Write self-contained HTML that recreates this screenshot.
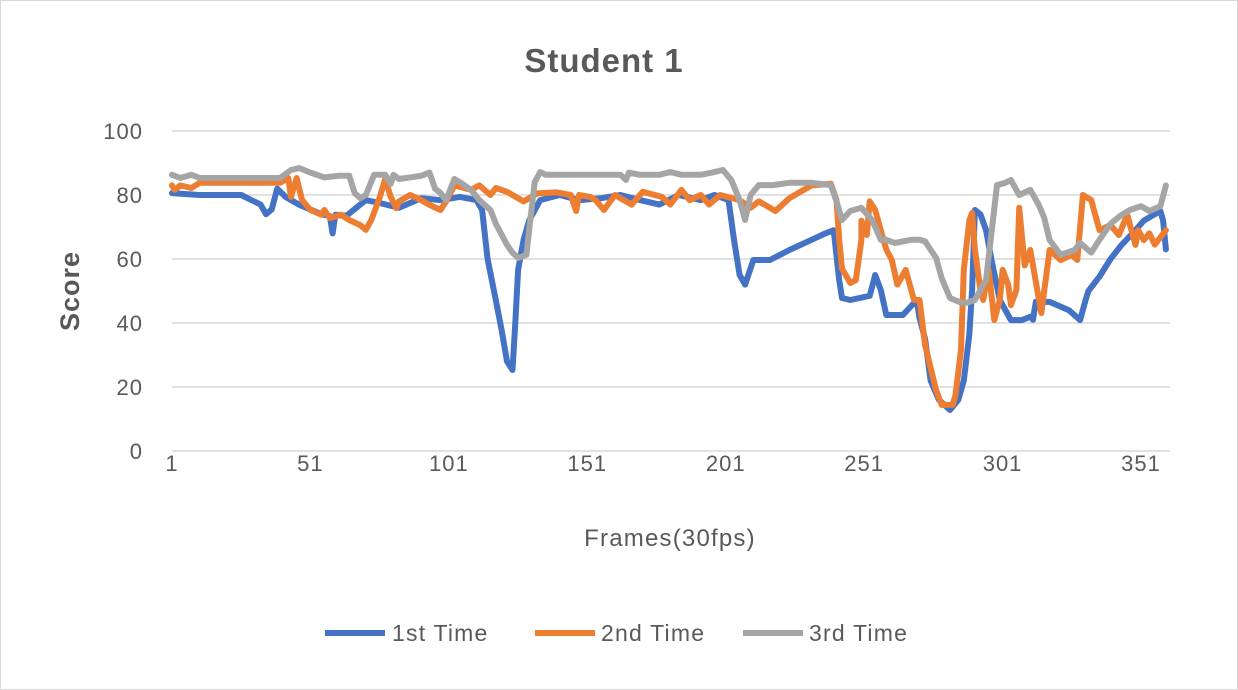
<!DOCTYPE html>
<html><head><meta charset="utf-8"><style>
body{margin:0;background:#fff;}
svg{display:block;font-family:"Liberation Sans",sans-serif;}
</style></head><body>
<svg id="chart" width="1238" height="690" viewBox="0 0 1238 690">
<rect x="0.5" y="0.5" width="1237" height="689" fill="#fff" stroke="#d9d9d9"/>
<text x="604" y="72" text-anchor="middle" font-size="33" font-weight="bold" letter-spacing="1" fill="#595959">Student 1</text>
<g id="grid"></g>
<g id="yticks"></g>
<g id="xticks"></g>
<text x="0" y="0" transform="translate(79,291) rotate(-90)" text-anchor="middle" font-size="27" font-weight="bold" letter-spacing="1" fill="#595959">Score</text>
<text x="670" y="546" text-anchor="middle" font-size="24" letter-spacing="1.2" fill="#595959">Frames(30fps)</text>
<g id="series"></g>
<g>
<g><line x1="325" y1="633" x2="385" y2="633" stroke="#4472c4" stroke-width="6"/><text x="392" y="641" font-size="23" letter-spacing="1.2" fill="#595959">1st Time</text></g>
<g><line x1="535" y1="633" x2="595" y2="633" stroke="#ed7d31" stroke-width="6"/><text x="601" y="641" font-size="23" letter-spacing="1.2" fill="#595959">2nd Time</text></g>
<g><line x1="743" y1="633" x2="803" y2="633" stroke="#a5a5a5" stroke-width="6"/><text x="809" y="641" font-size="23" letter-spacing="1.2" fill="#595959">3rd Time</text></g>
</g>
</svg>
<script>
const yTicks=[0,20,40,60,80,100];
const xTicks=[1,51,101,151,201,251,301,351];
const frames1=[1,11,26,33,35,37,39,42,47,55,58,59,60,64,71,76,83,91,98,105,111,113,115,118,120,122,124,125,126,128,130,134,141,148,156,163,170,177,184,192,197,202,204,206,208,211,217,224,232,237,240,242,243,246,253,255,257,259,265,270,271,273,275,278,282,285,287,289,290,291,293,295,297,300,304,308,311,312,313,318,325,329,331,332,336,340,344,349,352,356,358,359,360];
const values1=[80.6,80,80,77,74,75.5,82,79.4,76.9,74,73.4,68,73.8,73.5,78.4,77.5,76,79,78.4,79.4,78.4,75.3,60,47,38,28,25.3,40,56.6,66,72,78.4,80,78.4,79,80,78.4,77,80,78.4,80,78.4,66,55,52,59.7,59.7,62.8,66,68,69,53.4,47.8,47.2,48.5,55,50.3,42.5,42.5,47.2,41.6,35,22,16,12.8,16,22,36.3,50.3,75.3,74,69.1,59.7,47.2,40.9,40.9,42,41,46.6,46.6,44,40.9,47.2,50,54.5,60,64.4,69,72,74,75,72,63];
const frames2=[1,2,4,8,11,40,43,44,46,48,51,55,56,58,62,65,69,71,73,76,78,80,82,83,87,91,94,98,100,103,109,112,116,118,122,128,133,140,145,147,148,152,154,157,161,167,171,178,181,185,188,192,195,199,206,210,213,219,224,232,239,241,242,243,246,248,250,250,252,253,255,258,259,261,263,266,268,269,271,273,277,279,283,284,286,287,289,290,291,293,294,296,298,300,301,303,304,306,307,309,311,315,318,322,326,328,330,333,336,340,343,346,349,350,352,354,356,360];
const values2=[83,81.6,83,82.2,83.8,83.8,85.3,79.4,85.3,78.4,75.3,73.8,75.3,72.8,73.8,72.2,70.6,69.1,72.2,79.1,85,79.4,75.9,78,80,78.4,76.9,75.3,78,83,81.6,83,80,82.2,81,78,80.5,80.8,80,75,80,79.4,78.4,75.3,80,77,81,79.4,77,81.6,78.4,80,77,80,78.4,76,78,75,79,83,83.5,78.4,66,57,52.5,53.4,65.9,72,67.5,78,75.3,65.9,63,59.7,52,56.6,50.3,47.2,47.2,33.1,19,14.4,14.4,17.5,31.6,56.6,72,74.4,63,50.3,47.2,56.6,40.9,47.2,56.6,52,45.6,50.3,76,58,62.8,43.1,62.8,59.7,61.3,59.7,80,78.4,69,70.6,67.5,73.8,64.4,69,65.9,68,64.5,69,68,68];
const frames3=[1,4,8,11,40,44,47,51,56,61,65,67,69,71,74,78,80,81,83,91,94,96,98,100,103,105,109,112,116,118,122,124,126,129,130,132,134,136,139,156,163,165,166,170,177,181,185,188,192,196,200,203,206,208,210,213,218,224,232,239,241,243,246,250,254,257,259,262,268,271,273,277,279,282,286,288,291,295,299,302,304,307,311,314,316,318,322,327,329,333,336,340,344,347,351,354,358,360];
const values3=[86.3,85.3,86.3,85.3,85.3,87.8,88.4,87,85.5,86,86,80.6,79,80,86.3,86.3,83.5,86.3,85,86,87,82,80.6,78.4,85,84,81.6,78.4,75.3,71,64.4,62,60.3,61.3,69,84,87.2,86.3,86.3,86.3,86.3,84.7,87,86.3,86.3,87.2,86.3,86.3,86.3,87,87.8,84.7,78.4,72.2,80,83.1,83.1,83.8,83.8,83.1,78,72.2,75,76,72,66,66,65,66,66,65.5,60.3,54,47.8,46.3,46.3,47.2,53.4,83.1,83.8,84.7,80,81.6,77,73,65.9,61.3,62.8,65,62,66,71,73.8,75.3,76.5,75,76.5,83];
const seriesList=[["1st",frames1,values1,"#4472c4"],["2nd",frames2,values2,"#ed7d31"],["3rd",frames3,values3,"#a5a5a5"]];
const NS="http://www.w3.org/2000/svg";
const X0=172,X1=1141,Y0=451,Y1=131;
function xs(f){return X0+(f-1)*(X1-X0)/350;}
function ys(v){return Y0-v*(Y0-Y1)/100;}
const grid=document.getElementById('grid'),yt=document.getElementById('yticks'),xt=document.getElementById('xticks'),sg=document.getElementById('series');
yTicks.forEach(v=>{
 const l=document.createElementNS(NS,'line');
 l.setAttribute('x1',172);l.setAttribute('x2',1170);l.setAttribute('y1',ys(v));l.setAttribute('y2',ys(v));
 l.setAttribute('stroke','#d9d9d9');l.setAttribute('stroke-width','1.5');
 
 
 grid.appendChild(l);
 const t=document.createElementNS(NS,'text');
 t.setAttribute('x',143);t.setAttribute('y',ys(v)+8);t.setAttribute('text-anchor','end');
 t.setAttribute('font-size','22');t.setAttribute('letter-spacing','1');t.setAttribute('fill','#595959');t.textContent=v;
 
 
 yt.appendChild(t);
});
xTicks.forEach(f=>{
 const t=document.createElementNS(NS,'text');
 t.setAttribute('x',xs(f));t.setAttribute('y',471);t.setAttribute('text-anchor','middle');
 t.setAttribute('font-size','22');t.setAttribute('letter-spacing','1');t.setAttribute('fill','#595959');t.textContent=f;
 
 
 xt.appendChild(t);
});
seriesList.forEach(s=>{
 const p=document.createElementNS(NS,'polyline');
 p.setAttribute('points',s[1].map((f,i)=>xs(f).toFixed(1)+','+ys(s[2][i]).toFixed(1)).join(' '));
 p.setAttribute('fill','none');p.setAttribute('stroke',s[3]);p.setAttribute('stroke-width','6');
 p.setAttribute('stroke-linejoin','round');p.setAttribute('stroke-linecap','round');
 
 
 sg.appendChild(p);
});
</script>
</body></html>
